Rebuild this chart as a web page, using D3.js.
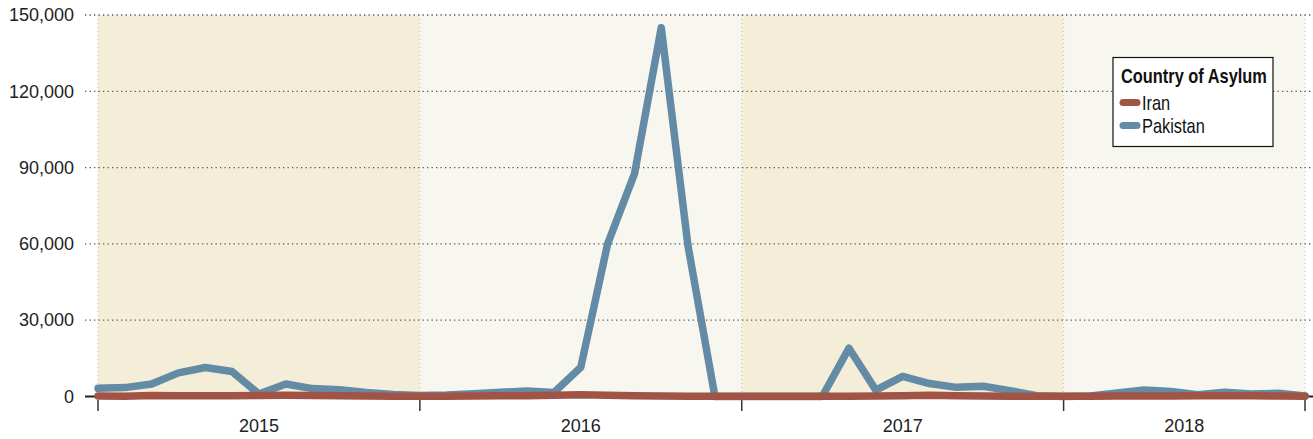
<!DOCTYPE html>
<html>
<head>
<meta charset="utf-8">
<script src="https://cdn.jsdelivr.net/npm/d3@7"></script>
<style>
  html, body { margin: 0; padding: 0; background: #ffffff; }
  svg { display: block; }
</style>
</head>
<body>
<svg id="chart" width="1313" height="439"></svg>
<script>
// Monthly returns of Afghan refugees, Jan 2015 – Oct 2018
const years = ["2015", "2016", "2017", "2018"];
const months = [];
years.forEach(y => {
  const n = y === "2018" ? 10 : 12;
  for (let m = 1; m <= n; m++) months.push(y + "-" + String(m).padStart(2, "0"));
});

const pakistan = [
  3200, 3500, 4900, 9300, 11400, 9800, 1000, 4900, 3100, 2700, 1600, 800,
  400, 600, 1100, 1650, 2200, 1600, 11500, 60000, 87500, 145000, 59000, 0,
  0, 0, 0, 0, 19000, 2500, 7900, 5100, 3600, 4000, 2300, 300,
  0, 200, 1400, 2600, 2000, 700, 1650, 1000, 1250, 200
];
const iran = [
  200, 100, 400, 300, 300, 300, 400, 500, 400, 300, 200, 100,
  100, 100, 200, 300, 300, 500, 700, 500, 300, 200, 100, 100,
  100, 100, 100, 100, 100, 200, 300, 500, 300, 200, 100, 100,
  100, 100, 200, 200, 200, 300, 300, 300, 200, 100
];

const yTicks = [0, 30000, 60000, 90000, 120000, 150000];
const legendTitle = "Country of Asylum";
const seriesNames = ["Iran", "Pakistan"];
const seriesColors = { Iran: "#a15445", Pakistan: "#638ba6" };
const bandColors = ["#f4eed8", "#f8f7ef"];

const svg = d3.select("#chart");
const axisFont = "'Liberation Sans', Arial, sans-serif";
const narrowScale = 0.82; // condensed face emulated by horizontal scaling

const x = d3.scalePoint().domain(months).range([98, 1305]).padding(0);
const y = d3.scaleLinear().domain([0, 150000]).range([396.5, 15]);

// Year bands: from a year's first month to the next year's first month (or the last month)
const yearSpans = years.map((yr, i) => {
  const first = months.find(m => m.startsWith(yr));
  const nextYear = years[i + 1];
  const end = nextYear ? months.find(m => m.startsWith(nextYear)) : months[months.length - 1];
  return { year: yr, x0: x(first), x1: x(end), i };
});

svg.append("g").selectAll("rect")
  .data(yearSpans)
  .join("rect")
  .attr("x", d => d.x0)
  .attr("y", y(150000))
  .attr("width", d => d.x1 - d.x0)
  .attr("height", y(0) - y(150000))
  .attr("fill", d => bandColors[d.i % 2]);

// Vertical dotted separators at band edges
const edges = yearSpans.map(d => d.x0).concat([yearSpans[yearSpans.length - 1].x1]);
svg.append("g").selectAll("line")
  .data(edges)
  .join("line")
  .attr("x1", d => d).attr("x2", d => d)
  .attr("y1", y(150000)).attr("y2", y(0))
  .attr("stroke", "#c9c3ae")
  .attr("stroke-width", 1)
  .attr("stroke-dasharray", "1,3");

// Value axis labels
const yAxis = d3.axisLeft(y).tickValues(yTicks).tickSize(0).tickFormat(d3.format(","));
const gy = svg.append("g").attr("transform", "translate(74,0)").call(yAxis);
gy.select(".domain").remove();
gy.selectAll("text")
  .attr("x", 0)
  .attr("fill", "#222")
  .style("font-family", axisFont)
  .style("font-size", "18px");

// Horizontal dotted gridlines
svg.append("g").selectAll("line")
  .data(yTicks.filter(t => t > 0))
  .join("line")
  .attr("x1", 85).attr("x2", 1313)
  .attr("y1", d => y(d)).attr("y2", d => y(d))
  .attr("stroke", "#555")
  .attr("stroke-width", 1.3)
  .attr("stroke-dasharray", "1.3,3.2");

// Zero baseline
svg.append("line")
  .attr("x1", 85).attr("x2", 1313)
  .attr("y1", y(0)).attr("y2", y(0))
  .attr("stroke", "#222")
  .attr("stroke-width", 2);

// Bottom axis: ticks at year edges, labels centered on each year
const gx = svg.append("g");
gx.selectAll("line")
  .data(edges)
  .join("line")
  .attr("x1", d => d).attr("x2", d => d)
  .attr("y1", 400).attr("y2", 411)
  .attr("stroke", "#333")
  .attr("stroke-width", 1.5);
gx.selectAll("text")
  .data(yearSpans)
  .join("text")
  .attr("x", d => (d.x0 + d.x1) / 2)
  .attr("y", 432)
  .attr("text-anchor", "middle")
  .attr("fill", "#222")
  .style("font-family", axisFont)
  .style("font-size", "18px")
  .text(d => d.year);

// Series lines
const line = d3.line()
  .x((d, i) => x(months[i]))
  .y(d => y(d));

const series = [
  { name: "Pakistan", values: pakistan },
  { name: "Iran", values: iran }
];
svg.append("g").selectAll("path")
  .data(series)
  .join("path")
  .attr("d", d => line(d.values))
  .attr("fill", "none")
  .attr("stroke", d => seriesColors[d.name])
  .attr("stroke-width", 7.5)
  .attr("stroke-linejoin", "round")
  .attr("stroke-linecap", "round");

// Legend
const lg = svg.append("g").attr("transform", "translate(1113,57.5)");
lg.append("rect")
  .attr("width", 160).attr("height", 89)
  .attr("fill", "#ffffff")
  .attr("stroke", "#111")
  .attr("stroke-width", 1.2);
lg.append("text")
  .attr("transform", `translate(8,25) scale(${narrowScale},1)`)
  .attr("fill", "#111")
  .style("font-family", axisFont)
  .style("font-weight", "bold")
  .style("font-size", "20px")
  .text(legendTitle);
const items = lg.selectAll("g.item")
  .data(seriesNames)
  .join("g")
  .attr("class", "item")
  .attr("transform", (d, i) => `translate(0,${45 + i * 23})`);
items.append("line")
  .attr("x1", 10).attr("x2", 24)
  .attr("y1", 0).attr("y2", 0)
  .attr("stroke", d => seriesColors[d])
  .attr("stroke-width", 7)
  .attr("stroke-linecap", "round");
items.append("text")
  .attr("transform", `translate(29,7) scale(${narrowScale},1)`)
  .attr("fill", "#111")
  .style("font-family", axisFont)
  .style("font-size", "20px")
  .text(d => d);
</script>
</body>
</html>
